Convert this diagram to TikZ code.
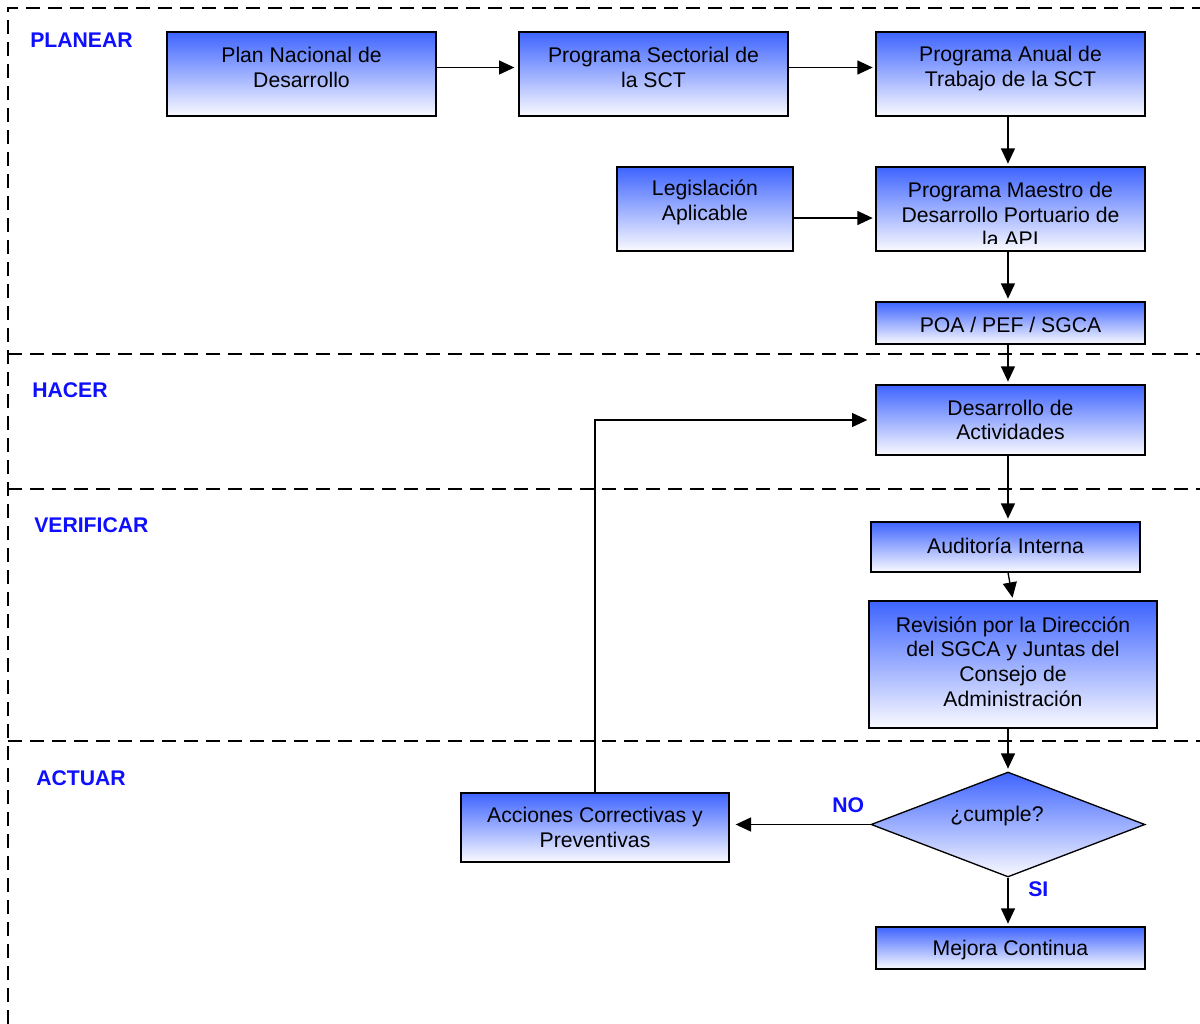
\documentclass[tikz,border=0pt]{standalone}
\usepackage{fontspec}
\setmainfont{Liberation Sans}
\usetikzlibrary{arrows.meta,shapes.geometric}
\definecolor{boxtop}{RGB}{62,100,255}
\definecolor{boxbot}{RGB}{250,250,255}
\definecolor{lanecol}{RGB}{15,15,255}
\tikzset{
  boxnode/.style={draw=black, line width=1pt, top color=boxtop, bottom color=boxbot, inner sep=0pt},
  txt/.style={align=center, inner sep=0pt, font=\fontsize{15.9}{18.6}\selectfont},
  lane/.style={anchor=west, inner sep=0pt, text=lanecol, font=\fontsize{15.9}{18.6}\selectfont\bfseries},
  arr/.style={line width=1pt, -{Triangle[length=11.5pt,width=10.5pt]}, shorten >=2pt},
  sep/.style={line width=1.6pt, dash pattern=on 10.5pt off 6pt},
}
\begin{document}
\begin{tikzpicture}[x=0.75pt,y=-0.75pt]
\useasboundingbox (0,0) rectangle (1200,1024);
\fill[white] (0,0) rectangle (1200,1024);
\clip (0,0) rectangle (1200,1024);
% lanes
\draw[sep] (8,1024) -- (8,8) -- (1200,8);
\draw[sep] (8,354) -- (1200,354);
\draw[sep] (8,489) -- (1200,489);
\draw[sep] (8,741) -- (1200,741);
\node[lane] (lplan) at (30,40) {PLANEAR};
\node[lane] (lhac) at (32,390) {HACER};
\node[lane] (lver) at (34,525) {VERIFICAR};
\node[lane] (lact) at (36,778) {ACTUAR};
% boxes
\node[boxnode, minimum width=201.75pt, minimum height=63pt] (plan) at (301.5,74) {};
\node[txt] (plant) at (301.5,67.5) {Plan Nacional de\\Desarrollo};
\node[boxnode, minimum width=201.75pt, minimum height=63pt] (sect) at (653.5,74) {};
\node[txt] (sectt) at (653.5,67.5) {Programa Sectorial de\\la SCT};
\node[boxnode, minimum width=201.75pt, minimum height=63pt] (anual) at (1010.5,74) {};
\node[txt] (anualt) at (1010.5,68.5) {Programa Anual de\\Trabajo de la SCT};
\node[boxnode, minimum width=132pt, minimum height=63pt] (legis) at (705,209) {};
\node[txt] (legist) at (705,202.5) {Legislación\\Aplicable};
\node[boxnode, minimum width=201.75pt, minimum height=63pt] (maestro) at (1010.5,209) {};
\begin{scope}
\clip (877,168) rectangle (1144,243);
\node[txt] (maestrot) at (1010.5,214.5) {Programa Maestro de\\Desarrollo Portuario de\\la API};
\end{scope}
\node[boxnode, minimum width=201.75pt, minimum height=31.5pt] (poa) at (1010.5,323) {};
\node[txt] (poat) at (1010.5,325) {POA / PEF / SGCA};
\node[boxnode, minimum width=201.75pt, minimum height=52.5pt] (desa) at (1010.5,420) {};
\node[txt] (desat) at (1010.5,420) {Desarrollo de\\Actividades};
\node[boxnode, minimum width=201.75pt, minimum height=37.5pt] (audit) at (1005.5,547) {};
\node[txt] (auditt) at (1005.5,546) {Auditoría Interna};
\node[boxnode, minimum width=216pt, minimum height=95.25pt] (rev) at (1013,664.5) {};
\node[txt] (revt) at (1013,661.5) {Revisión por la Dirección\\del SGCA y Juntas del\\Consejo de\\Administración};
\node[diamond, boxnode, minimum width=205.5pt, minimum height=78.75pt] (dia) at (1008,824.5) {};
\node[txt] (diat) at (997,816) {¿cumple?};
\node[boxnode, minimum width=201pt, minimum height=51.75pt] (acc) at (595,827.5) {};
\node[txt] (acct) at (595,827.5) {Acciones Correctivas y\\Preventivas};
\node[boxnode, minimum width=201.75pt, minimum height=31.5pt] (mejora) at (1010.5,948) {};
\begin{scope}
\clip (877,928) rectangle (1144,960);
\node[txt] (mejorat) at (1010.5,950) {Mejora Continua};
\end{scope}
% connectors
\draw[arr, shorten >=3pt] (plant -| plan.east) -- (plant -| sect.west);
\draw[arr] (sectt -| sect.east) -- (sectt -| anual.west);
\draw[arr] ([xshift=-1.9pt]anual.south) -- ([xshift=-1.9pt]maestro.north);
\draw[arr] ([yshift=-6.75pt]legis.east) -- ([yshift=-6.75pt]legis.east -| maestro.west);
\draw[arr] ([xshift=-1.9pt]maestro.south) -- ([xshift=-1.9pt]poa.north);
\draw[arr] ([xshift=-1.9pt]poa.south) -- ([xshift=-1.9pt]desa.north);
\draw[arr] ([xshift=-1.9pt]desa.south) -- ([xshift=-1.9pt]desa.south |- audit.north);
\draw[arr] ([xshift=1.9pt]audit.south) -- (rev.north);
\draw[arr] (rev.south -| dia.north) -- (dia.north);
\draw[arr, shorten >=4.5pt] (dia.west) -- (dia.west -| acc.east);
\draw[arr] (dia.south) -- (dia.south |- mejora.north);
\draw[arr, shorten >=6pt] (acc.north) |- (desa.west);
\node[lane] (no) at (832,805) {NO};
\node[lane] (si) at (1028,889) {SI};
\end{tikzpicture}
\end{document}
